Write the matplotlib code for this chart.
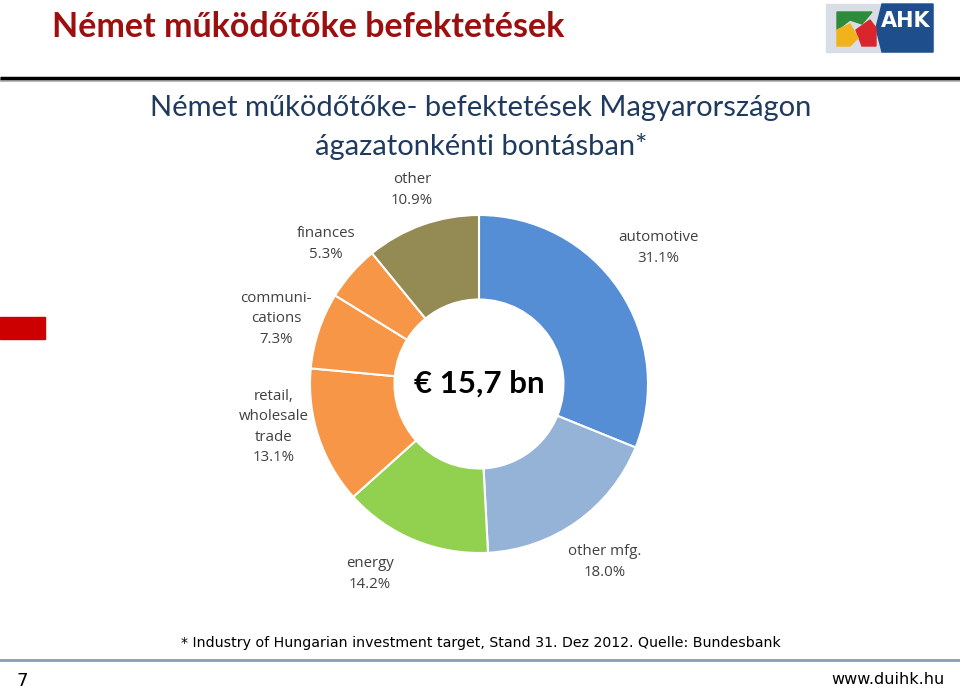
import matplotlib.pyplot as plt
from matplotlib.patches import Polygon, Rectangle

# sector shares, clockwise from 12 o'clock
sectors = ['automotive', 'other mfg.', 'energy', 'retail,\nwholesale\ntrade',
           'communi-\ncations', 'finances', 'other']
shares = [31.1, 18.0, 14.2, 13.1, 7.3, 5.3, 10.9]
colors = ['#558ED5', '#95B3D7', '#92D050', '#F79646', '#F79646', '#F79646', '#948A54']
total_label = '€ 15,7 bn'

# label positions in slide pixels (x, y)
label_pos = [(658, 248), (605, 562), (370, 574), (274, 427), (276, 319), (326, 244), (412, 190)]

plt.rcParams['font.family'] = ['Open Sans', 'DejaVu Sans']

fig = plt.figure(figsize=(9.6, 6.89), dpi=100)

# slide layer in pixel coordinates
bg = fig.add_axes([0, 0, 1, 1])
bg.set_xlim(0, 960)
bg.set_ylim(689, 0)
bg.axis('off')

bg.text(52, 27, 'Német működőtőke befektetések', fontsize=24.5, fontweight='bold',
        color='#9B0F0F', va='center', ha='left', family=['Lato', 'DejaVu Sans'])
bg.plot([0, 960], [80, 80], color='#BBBBBB', lw=3, solid_capstyle='butt')
bg.plot([0, 960], [78, 78], color='black', lw=2.5, solid_capstyle='butt')

# logo
bg.add_patch(Rectangle((826, 4), 107, 48, color='#D9DDE5'))
bg.add_patch(Polygon([(882, 4), (933, 4), (933, 52), (882, 52), (876, 28)], color='#1F4E8C'))
bg.text(906, 21, 'AHK', color='white', fontsize=15, fontweight='bold', ha='center', va='center',
        family=['DejaVu Sans Condensed', 'DejaVu Sans'])
bg.add_patch(Polygon([(837, 12), (872, 12), (862, 24), (850, 20), (837, 30)], color='#2E8B3A'))
bg.add_patch(Polygon([(856, 30), (870, 20), (876, 28), (876, 46), (862, 46)], color='#D8262C'))
bg.add_patch(Polygon([(837, 30), (850, 24), (858, 38), (850, 46), (837, 46)], color='#F2B21B'))

bg.add_patch(Rectangle((0, 317), 45, 22, color='#CC0000'))

bg.text(481, 108, 'Német működőtőke- befektetések Magyarországon', fontsize=21,
        color='#1F3A5F', ha='center', va='center', family=['Lato', 'DejaVu Sans'])
bg.text(481, 147, 'ágazatonkénti bontásban*', fontsize=21,
        color='#1F3A5F', ha='center', va='center', family=['Lato', 'DejaVu Sans'])

for name, val, (x, y) in zip(sectors, shares, label_pos):
    bg.text(x, y, f'{name}\n{val:.1f}%', fontsize=10.8, color='#404040',
            ha='center', va='center', linespacing=1.5)

bg.text(481, 643, '* Industry of Hungarian investment target, Stand 31. Dez 2012. Quelle: Bundesbank',
        fontsize=10.2, ha='center', va='center', family=['DejaVu Sans Condensed', 'DejaVu Sans'])
bg.plot([0, 960], [660, 660], color='#8C9BB5', lw=2)
bg.text(22, 681, '7', fontsize=13, ha='center', va='center', family=['DejaVu Sans Condensed', 'DejaVu Sans'])
bg.text(945, 680, 'www.duihk.hu', fontsize=11.5, ha='right', va='center',
        family=['DejaVu Sans Condensed', 'DejaVu Sans'])

# donut
cx, cy, r = 479, 384, 169
ax = fig.add_axes([(cx - r) / 960, (689 - cy - r) / 689, 2 * r / 960, 2 * r / 689])
ax.pie(shares, colors=colors, startangle=90, counterclock=False, radius=1,
       wedgeprops=dict(width=0.5, edgecolor='white', linewidth=1.5))
ax.set_xlim(-1, 1)
ax.set_ylim(-1, 1)
ax.axis('off')
ax.text(0, 0, total_label, fontsize=22.5, fontweight='bold', ha='center', va='center',
        family=['Lato', 'DejaVu Sans'])

fig.savefig('out.png', dpi=100)
